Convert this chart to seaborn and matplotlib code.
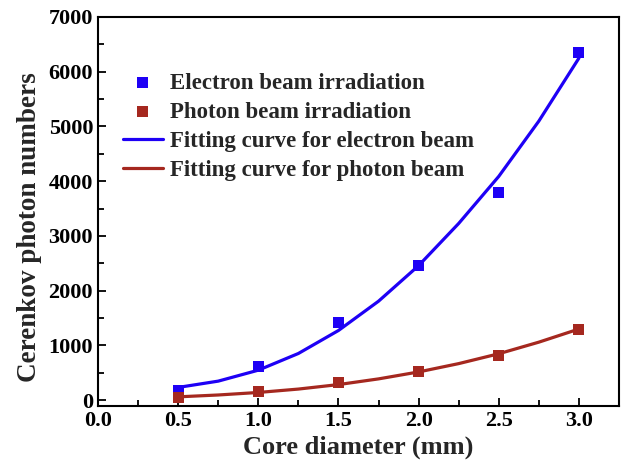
import numpy as np
import pandas as pd
import matplotlib
matplotlib.use("Agg")
import matplotlib.pyplot as plt
from matplotlib.ticker import MultipleLocator, FormatStrFormatter
import seaborn as sns

# measured data
core_diameter = [0.5, 1.0, 1.5, 2.0, 2.5, 3.0]
electron_counts = [180, 610, 1413, 2455, 3797, 6356]
photon_counts = [42, 152, 317, 530, 823, 1298]

# fitting curves
fit_diameter = [0.5, 0.75, 1.0, 1.25, 1.5, 1.75, 2.0, 2.25, 2.5, 2.75, 3.0]
electron_fit = [232, 347, 547, 852, 1272, 1807, 2457, 3227, 4087, 5097, 6247]
photon_fit = [60, 94, 140, 202, 284, 388, 515, 667, 847, 1059, 1299]

labels = ["Electron beam irradiation", "Photon beam irradiation",
          "Fitting curve for electron beam", "Fitting curve for photon beam"]

sns.set_theme(style="ticks")
plt.rcParams["font.family"] = ["Liberation Serif", "DejaVu Serif"]
plt.rcParams["font.weight"] = "bold"

blue = "#1e00f5"
red = "#a5281f"

df_e = pd.DataFrame({"x": core_diameter, "y": electron_counts})
df_p = pd.DataFrame({"x": core_diameter, "y": photon_counts})
df_fe = pd.DataFrame({"x": fit_diameter, "y": electron_fit})
df_fp = pd.DataFrame({"x": fit_diameter, "y": photon_fit})

fig = plt.figure(figsize=(6.24, 4.69), dpi=100)
ax = fig.add_axes([0.157, 0.134, 0.835, 0.830])

sns.lineplot(data=df_fe, x="x", y="y", ax=ax, color=blue, lw=2.3, zorder=2)
sns.lineplot(data=df_fp, x="x", y="y", ax=ax, color=red, lw=2.3, zorder=2)
sns.scatterplot(data=df_e, x="x", y="y", ax=ax, marker="s", s=62, color=blue,
                edgecolor="none", zorder=3)
sns.scatterplot(data=df_p, x="x", y="y", ax=ax, marker="s", s=62, color=red,
                edgecolor="none", zorder=3)

lines = ax.get_lines()
colls = ax.collections
handles = [colls[-2], colls[-1], lines[0], lines[1]]
ax.legend(handles, labels, loc="upper left", bbox_to_anchor=(0.03, 0.88),
          frameon=False, prop=dict(size=16.5, weight="bold"), handlelength=1.75,
          handletextpad=0.3, labelspacing=0.35, borderaxespad=0.0)

ax.set_xlim(0, 3.25)
ax.set_ylim(-110, 7000)
ax.xaxis.set_major_locator(MultipleLocator(0.5))
ax.xaxis.set_minor_locator(MultipleLocator(0.25))
ax.yaxis.set_major_locator(MultipleLocator(1000))
ax.yaxis.set_minor_locator(MultipleLocator(500))
ax.xaxis.set_major_formatter(FormatStrFormatter("%.1f"))
ax.tick_params(which="both", direction="in", width=1.3, labelsize=16, colors="black")
ax.tick_params(which="major", length=6)
ax.tick_params(which="minor", length=4)
for s in ax.spines.values():
    s.set_linewidth(1.5)
    s.set_color("black")
ax.set_xlabel("Core diameter (mm)", fontsize=19, fontweight="bold", labelpad=3)
ax.set_ylabel("Cerenkov photon numbers", fontsize=19.5, fontweight="bold", labelpad=6)
ax.yaxis.set_label_coords(-0.108, 0.46)
for t in ax.get_xticklabels() + ax.get_yticklabels():
    t.set_fontweight("bold")

fig.savefig("out.png", dpi=100)
